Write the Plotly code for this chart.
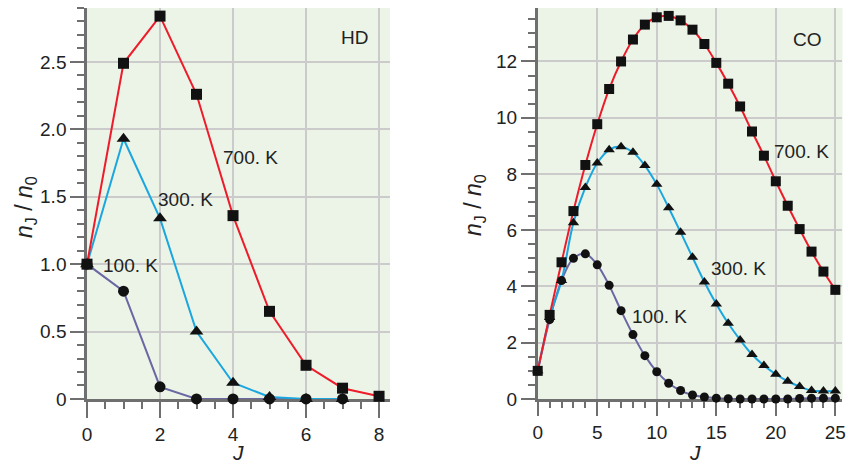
import plotly.graph_objects as go

# ---------------- data ----------------
# HD (left panel)
hd_J_700 = [0, 1, 2, 3, 4, 5, 6, 7, 8]
hd_700 = [1.0, 2.49, 2.84, 2.26, 1.36, 0.65, 0.25, 0.08, 0.02]
hd_J_300 = [0, 1, 2, 3, 4, 5, 6, 7]
hd_300 = [1.0, 1.93, 1.34, 0.50, 0.12, 0.015, 0.0, 0.0]
hd_J_100 = [0, 1, 2, 3, 4, 5, 6, 7]
hd_100 = [1.0, 0.80, 0.09, 0.0, 0.0, 0.0, 0.0, 0.0]

# CO (right panel)
co_J = list(range(0, 26))
co_700 = [1.0, 2.99, 4.86, 6.68, 8.32, 9.77, 11.02, 12.0, 12.78, 13.31, 13.57, 13.62, 13.46,
          13.13, 12.62, 11.95, 11.21, 10.4, 9.51, 8.65, 7.74, 6.87, 6.04, 5.24, 4.53, 3.88]
co_300 = [1.0, 2.9, 4.21, 6.27, 7.52, 8.39, 8.86, 8.97, 8.77, 8.3, 7.63, 6.8, 5.93,
          5.04, 4.16, 3.38, 2.69, 2.1, 1.58, 1.19, 0.88, 0.63, 0.44, 0.3, 0.28, 0.28]
co_100 = [1.0, 2.82, 4.21, 5.0, 5.16, 4.77, 4.04, 3.14, 2.29, 1.54, 0.97, 0.56, 0.3,
          0.14, 0.07, 0.03, 0.01, 0.0, 0.0, 0.0, 0.0, 0.0, 0.02, 0.03, 0.03, 0.03]

temps = ["100. K", "300. K", "700. K"]
colors = {"100. K": "#6a67a3", "300. K": "#1ba6df", "700. K": "#ee1c2b"}
symbols = {"100. K": "circle", "300. K": "triangle-up", "700. K": "square"}

FONT = "Liberation Sans, Arial, Helvetica, sans-serif"
AXC = "#6f6f6f"
GRID = "#cbcbcb"
BG = "#ebf4e7"

fig = go.Figure()

hd = {"100. K": (hd_J_100, hd_100), "300. K": (hd_J_300, hd_300), "700. K": (hd_J_700, hd_700)}
co = {"100. K": (co_J, co_100), "300. K": (co_J, co_300), "700. K": (co_J, co_700)}

# lines first
for t in temps:
    x, y = hd[t]
    fig.add_trace(go.Scatter(x=x, y=y, mode="lines", line=dict(color=colors[t], width=2),
                             xaxis="x", yaxis="y", showlegend=False, cliponaxis=False))
for t in temps:
    x, y = co[t]
    fig.add_trace(go.Scatter(x=x, y=y, mode="lines", line=dict(color=colors[t], width=2, shape="spline"),
                             xaxis="x2", yaxis="y2", showlegend=False, cliponaxis=False))
# markers on top
msize = {"100. K": 11, "300. K": 12, "700. K": 11}
for t in temps:
    x, y = hd[t]
    fig.add_trace(go.Scatter(x=x, y=y, mode="markers",
                             marker=dict(symbol=symbols[t], color="#111111", size=msize[t]),
                             xaxis="x", yaxis="y", showlegend=False, cliponaxis=False))
msize2 = {"100. K": 9, "300. K": 10, "700. K": 10}
for t in temps:
    x, y = co[t]
    fig.add_trace(go.Scatter(x=x, y=y, mode="markers",
                             marker=dict(symbol=symbols[t], color="#111111", size=msize2[t]),
                             xaxis="x2", yaxis="y2", showlegend=False, cliponaxis=False))

common = dict(showline=True, linecolor=AXC, linewidth=2.5, ticks="outside", tickcolor=AXC,
              tickwidth=2, showgrid=True, gridcolor=GRID, gridwidth=2, zeroline=False,
              layer="below traces", tickfont=dict(family=FONT, size=19, color="#222222"),
              fixedrange=True, automargin=False, ticklabeloverflow="allow")

ydom = [0.1493, 0.9829]
fig.update_layout(
    width=848, height=469, autosize=False,
    margin=dict(l=0, r=0, t=0, b=0, pad=0),
    paper_bgcolor="white",
    plot_bgcolor=BG,
    font=dict(family=FONT, color="#222222"),
    xaxis=dict(domain=[0.1026, 0.4599], range=[0, 8.3], tickvals=[0, 2, 4, 6, 8], ticklen=16,
               minor=dict(tick0=0, dtick=0.5, ticklen=7, tickcolor=AXC, tickwidth=2, ticks="outside", showgrid=False),
               anchor="y", **common),
    yaxis=dict(domain=ydom, range=[0, 2.9], tickvals=[0, 0.5, 1.0, 1.5, 2.0, 2.5],
               ticktext=["0", "0.5", "1.0", "1.5", "2.0", "2.5"], ticklen=14,
               minor=dict(tick0=0, dtick=0.1, ticklen=7, tickcolor=AXC, tickwidth=2, ticks="outside", showgrid=False),
               anchor="x", **common),
    xaxis2=dict(domain=[0.6341, 0.9935], range=[0, 25.6], tickvals=[0, 5, 10, 15, 20, 25], ticklen=14,
                minor=dict(tick0=0, dtick=1, ticklen=6, tickcolor=AXC, tickwidth=2, ticks="outside", showgrid=False),
                anchor="y2", **common),
    yaxis2=dict(domain=ydom, range=[0, 13.9], tickvals=[0, 2, 4, 6, 8, 10, 12], ticklen=14,
                minor=dict(tick0=0, dtick=0.5, ticklen=7, tickcolor=AXC, tickwidth=2, ticks="outside", showgrid=False),
                anchor="x2", **common),
)

ann_font = dict(family=FONT, size=19, color="#222222")
labels_hd = [("HD", 7.32, 2.68), ("700. K", 4.49, 1.79), ("300. K", 2.71, 1.48), ("100. K", 1.2, 0.99)]
labels_co = [("CO", 22.65, 12.78), ("700. K", 22.15, 8.79), ("300. K", 16.85, 4.63), ("100. K", 10.2, 2.92)]
for txt, x, y in labels_hd:
    fig.add_annotation(text=txt, x=x, y=y, xref="x", yref="y", showarrow=False, font=ann_font,
                       xanchor="center", yanchor="middle")
for txt, x, y in labels_co:
    fig.add_annotation(text=txt, x=x, y=y, xref="x2", yref="y2", showarrow=False, font=ann_font,
                       xanchor="center", yanchor="middle")

ytitle = "<i>n</i><sub>J</sub> / <i>n</i><sub>0</sub>"
tfont = dict(family=FONT, size=23, color="#222222")
for tx, ty in [(0.0295, 0.5586), (0.5602, 0.563)]:
    fig.add_annotation(text=ytitle, x=tx, y=ty, xref="paper", yref="paper", showarrow=False,
                       textangle=-90, font=tfont, xanchor="center", yanchor="middle")
for tx in [0.2807, 0.8196]:
    fig.add_annotation(text="<i>J</i>", x=tx, y=0.0362, xref="paper", yref="paper", showarrow=False,
                       font=dict(family=FONT, size=21, color="#222222"), xanchor="center", yanchor="middle")

fig.write_html("out.html", config={"displayModeBar": False},
               post_script="document.body.style.margin='0';document.body.style.overflow='hidden';")
